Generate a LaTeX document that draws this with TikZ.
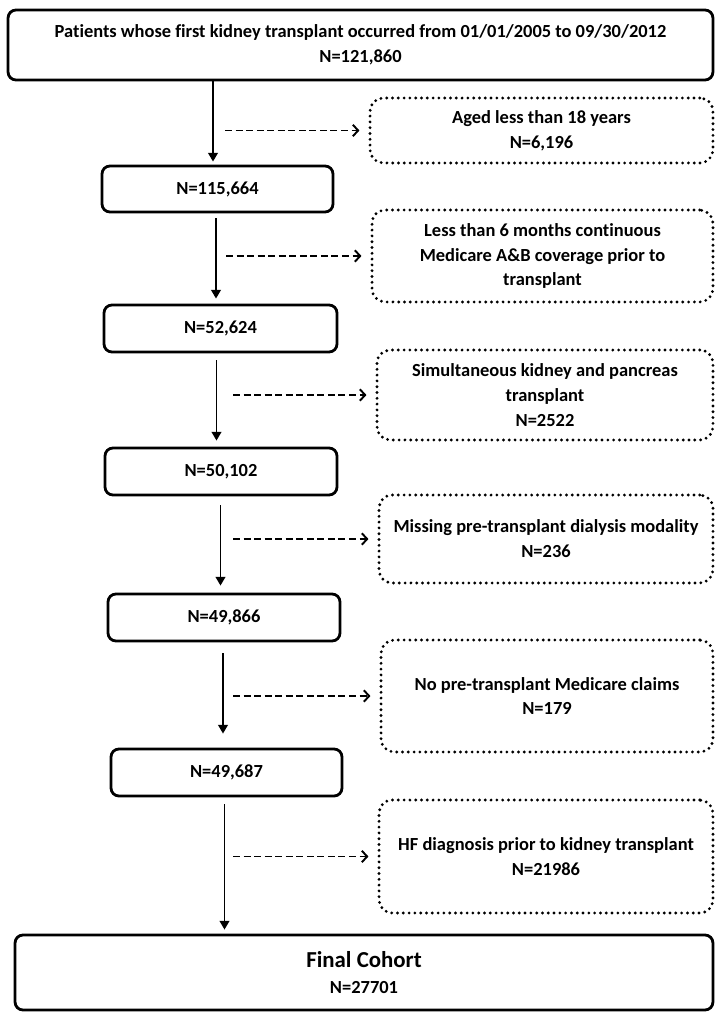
\documentclass[tikz,border=0pt]{standalone}
\usepackage{fontspec}
\setmainfont{Carlito}[Ligatures=NoCommon]
\usetikzlibrary{arrows.meta}
\tikzset{
  mainbox/.style={draw,line width=1.6pt,rounded corners=4.5pt,align=center,inner sep=0pt},
  exclbox/.style={draw,line width=1.8pt,line cap=round,dash pattern=on 0pt off 3.3pt,rounded corners=7.5pt,align=center,inner sep=0pt},
  flow/.style={line width=1.1pt,-{Triangle[length=5pt,width=5.5pt]}},
  excl/.style={line width=1.1pt,dash pattern=on 4pt off 2pt,shorten >=0.18cm,-{Straight Barb[length=3pt,width=6.5pt]}},
}
\begin{document}
\begin{tikzpicture}[x=0.02cm,y=-0.02cm,font=\bfseries\fontsize{10.5}{14.2}\selectfont]
			\useasboundingbox (0,0) rectangle (714,1013);
			\node[mainbox,minimum width=14.1cm,minimum height=1.4cm] (start) at (360.5,45) {Patients whose first kidney transplant occurred from 01/01/2005 to 09/30/2012\\N=121,860};
			\node[mainbox,minimum width=4.62cm,minimum height=0.92cm] (n1) at (217.5,189) {N=115,664};
			\node[mainbox,minimum width=4.66cm,minimum height=0.94cm] (n2) at (220.5,328.5) {N=52,624};
			\node[mainbox,minimum width=4.64cm,minimum height=0.94cm] (n3) at (221,471.5) {N=50,102};
			\node[mainbox,minimum width=4.64cm,minimum height=0.94cm] (n4) at (224,617.5) {N=49,866};
			\node[mainbox,minimum width=4.62cm,minimum height=0.94cm] (n5) at (226.5,772.5) {N=49,687};
			\node[mainbox,minimum width=13.96cm,minimum height=1.5cm] (final) at (364,972.5) {{\fontsize{13}{16}\selectfont Final Cohort}\\[1pt]N=27701};
			\node[exclbox,minimum width=6.86cm,minimum height=1.3cm] (ex1) at (541.5,130.5) {Aged less than 18 years\\N=6,196};
			\node[exclbox,minimum width=6.82cm,minimum height=1.84cm] (ex2) at (542.5,256) {Less than 6 months continuous\\Medicare A\&B coverage prior to\\transplant};
			\node[exclbox,minimum width=6.72cm,minimum height=1.8cm] (ex3) at (545,395) {Simultaneous kidney and pancreas\\transplant\\N=2522};
			\node[exclbox,minimum width=6.68cm,minimum height=1.76cm] (ex4) at (546,539) {Missing pre-transplant dialysis modality\\N=236};
			\node[exclbox,minimum width=6.64cm,minimum height=2.24cm] (ex5) at (547,696) {No pre-transplant Medicare claims\\N=179};
			\node[exclbox,minimum width=6.68cm,minimum height=2.26cm] (ex6) at (546,856.5) {HF diagnosis prior to kidney transplant\\N=21986};
			\draw[flow,shorten >=0.06cm] (start.south -| 213,0) -- (n1.north -| 213,0);
			\draw[flow,shorten <=0.1cm,shorten >=0.1cm] (n1.south -| 216,0) -- (n2.north -| 216,0);
			\draw[flow,shorten <=0.14cm,shorten >=0.12cm] (n2.south -| 216.5,0) -- (n3.north -| 216.5,0);
			\draw[flow,shorten <=0.18cm,shorten >=0.14cm] (n3.south -| 220.5,0) -- (n4.north -| 220.5,0);
			\draw[flow,shorten <=0.22cm,shorten >=0.28cm] (n4.south -| 223,0) -- (n5.north -| 223,0);
			\draw[flow,shorten <=0.14cm,shorten >=0.08cm] (n5.south -| 224.5,0) -- (final.north -| 224.5,0);
			\draw[excl] (225,0 |- ex1.west) -- (ex1.west);
			\draw[excl] (226,0 |- ex2.west) -- (ex2.west);
			\draw[excl] (233,0 |- ex3.west) -- (ex3.west);
			\draw[excl] (233,0 |- ex4.west) -- (ex4.west);
			\draw[excl] (233,0 |- ex5.west) -- (ex5.west);
			\draw[excl] (233,0 |- ex6.west) -- (ex6.west);
		\end{tikzpicture}
\end{document}
